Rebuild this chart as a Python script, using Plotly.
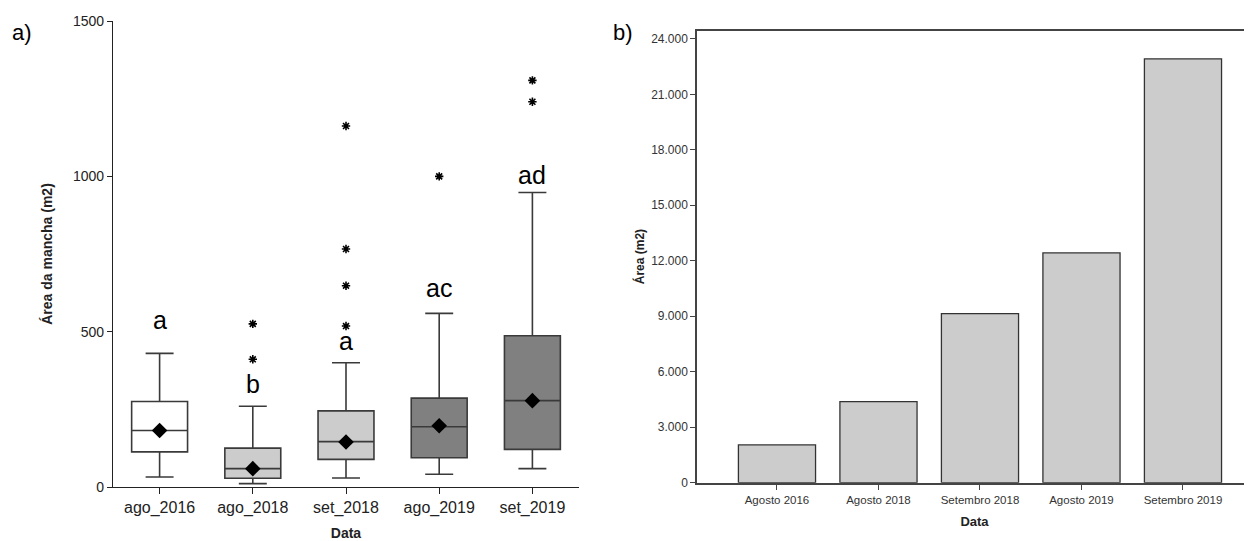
import plotly.graph_objects as go

# ---- Panel a) box plot data ----
box_cats = ["ago_2016", "ago_2018", "set_2018", "ago_2019", "set_2019"]
q1 = [113, 28, 89, 94, 121]
median = [182, 59, 146, 194, 278]
q3 = [275, 125, 245, 286, 487]
lower_w = [32, 11, 29, 41, 59]
upper_w = [430, 260, 400, 559, 948]
means = [182, 59, 145, 197, 278]
box_fill = ["#ffffff", "#cccccc", "#cccccc", "#808080", "#808080"]
outlier_cat = ["ago_2018", "ago_2018", "set_2018", "set_2018", "set_2018", "set_2018",
               "ago_2019", "set_2019", "set_2019"]
outlier_val = [525, 411, 518, 648, 766, 1162, 1000, 1240, 1309]
letters = ["a", "b", "a", "ac", "ad"]
letter_y = [536, 330, 469, 642, 1004]
y_ticks_a = [0, 500, 1000, 1500]

# ---- Panel b) bar data ----
bar_cats = ["Agosto 2016", "Agosto 2018", "Setembro 2018", "Agosto 2019", "Setembro 2019"]
bar_vals = [2040, 4380, 9140, 12425, 22920]
y_ticks_b = [0, 3000, 6000, 9000, 12000, 15000, 18000, 21000, 24000]
y_ticktext_b = ["0", "3.000", "6.000", "9.000", "12.000", "15.000", "18.000", "21.000", "24.000"]

FONT = "Arial, Liberation Sans, sans-serif"

# page offset (body margin) compensation
OFF = 8
W, H = 1252 - OFF, 541 - OFF


def px(x):
    return (x - OFF) / W


def py(y):
    return 1 - (y - OFF) / H


fig = go.Figure()

for i, c in enumerate(box_cats):
    fig.add_trace(go.Box(
        x=[c], q1=[q1[i]], median=[median[i]], q3=[q3[i]],
        lowerfence=[lower_w[i]], upperfence=[upper_w[i]],
        fillcolor=box_fill[i], line=dict(color="#3a3a3a", width=1.6),
        width=0.6, whiskerwidth=0.5, boxpoints=False,
        xaxis="x", yaxis="y", showlegend=False, hoverinfo="skip"))

fig.add_trace(go.Scatter(
    x=box_cats, y=means, mode="markers", xaxis="x", yaxis="y",
    marker=dict(symbol="diamond", size=12, color="black"), showlegend=False))

fig.add_trace(go.Scatter(
    x=outlier_cat, y=outlier_val, mode="markers", xaxis="x", yaxis="y",
    marker=dict(symbol="asterisk-open", size=7, color="black",
                line=dict(color="black", width=1.6)),
    showlegend=False))

for c, t, yv in zip(box_cats, letters, letter_y):
    fig.add_annotation(x=c, y=yv, xref="x", yref="y", text=t, showarrow=False,
                       font=dict(family=FONT, size=25, color="black"))

fig.add_trace(go.Bar(
    x=bar_cats, y=bar_vals, xaxis="x2", yaxis="y2", width=0.76,
    marker=dict(color="#cccccc", line=dict(color="#333333", width=1.3)),
    showlegend=False))

fig.update_layout(
    width=W, height=H,
    margin=dict(l=0, r=0, t=0, b=0, autoexpand=False),
    paper_bgcolor="white", plot_bgcolor="white",
    font=dict(family=FONT, color="#222222"),
    xaxis=dict(domain=[px(113), px(579)], type="category", categoryorder="array",
               categoryarray=box_cats, range=[-0.5, 4.5], automargin=False,
               showline=True, linecolor="#222222", linewidth=1.3,
               ticks="outside", ticklen=6, tickcolor="#222222",
               tickfont=dict(size=16, color="#222222"), showgrid=False, zeroline=False,
               title=dict(text="<b>Data</b>", font=dict(size=14, color="#222222"), standoff=14)),
    yaxis=dict(domain=[py(487), py(21)], range=[0, 1500], automargin=False,
               tickvals=y_ticks_a, ticktext=[str(v) for v in y_ticks_a],
               showline=True, linecolor="#222222", linewidth=1.3,
               ticks="outside", ticklen=5, tickcolor="#222222",
               tickfont=dict(size=14, color="#222222"), showgrid=False, zeroline=False,
               title=dict(text="<b>Área da mancha (m2)</b>", font=dict(size=14, color="#222222"), standoff=16)),
    xaxis2=dict(domain=[px(697), 1.0], type="category", categoryorder="array",
                categoryarray=bar_cats, range=[-0.788, 4.68], anchor="y2", automargin=False,
                showline=True, mirror=True, linecolor="#444444", linewidth=1.5,
                ticks="outside", ticklen=6, tickcolor="#444444",
                tickfont=dict(size=11.5, color="#333333"), showgrid=False, zeroline=False,
                title=dict(text="<b>Data</b>", font=dict(size=13, color="#222222"), standoff=12)),
    yaxis2=dict(domain=[py(482.7), py(30.5)], range=[0, 24450], anchor="x2", automargin=False,
                tickvals=y_ticks_b, ticktext=y_ticktext_b,
                showline=True, linecolor="#444444", linewidth=1.5,
                ticks="outside", ticklen=5, tickcolor="#444444",
                tickfont=dict(size=12, color="#333333"), showgrid=False, zeroline=False,
                title=dict(text="<b>Área (m2)</b>", font=dict(size=12, color="#222222"), standoff=4)),
)

fig.add_annotation(x=px(10), y=py(33), xref="paper", yref="paper", text="a)",
                   showarrow=False, xanchor="left", yanchor="middle",
                   font=dict(family=FONT, size=22, color="black"))
fig.add_annotation(x=px(611), y=py(33), xref="paper", yref="paper", text="b)",
                   showarrow=False, xanchor="left", yanchor="middle",
                   font=dict(family=FONT, size=22, color="black"))

fig.write_html("out.html")
